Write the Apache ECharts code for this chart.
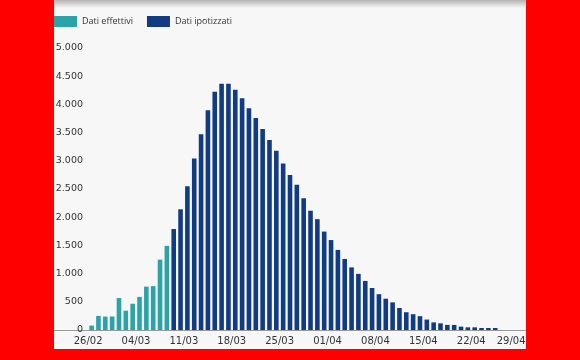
<!DOCTYPE html>
<html>
<head>
<meta charset="utf-8">
<script src="https://cdn.jsdelivr.net/npm/echarts@6/dist/echarts.min.js"></script>
<style>
html,body{margin:0;padding:0;background:#ff0000;}
#chart{width:580px;height:360px;}
</style>
</head>
<body>
<div id="chart"></div>
<script>
// Categories: one per day (empty days before 26/02 keep the axis layout)
var categories = [
  '21/02','22/02','23/02','24/02','25/02','26/02','27/02','28/02','29/02',
  '01/03','02/03','03/03','04/03','05/03','06/03','07/03','08/03','09/03','10/03',
  '11/03','12/03','13/03','14/03','15/03','16/03','17/03','18/03','19/03','20/03',
  '21/03','22/03','23/03','24/03','25/03','26/03','27/03','28/03','29/03','30/03','31/03',
  '01/04','02/04','03/04','04/04','05/04','06/04','07/04','08/04','09/04','10/04',
  '11/04','12/04','13/04','14/04','15/04','16/04','17/04','18/04','19/04','20/04',
  '21/04','22/04','23/04','24/04','25/04','26/04','27/04','28/04','29/04'
];
var tickLabels = ['26/02','04/03','11/03','18/03','25/03','01/04','08/04','15/04','22/04','29/04'];

// Dati effettivi: 26/02 .. 08/03
var effettiviStart = '26/02';
var effettivi = [78, 250, 238, 240, 566, 342, 466, 587, 769, 778, 1247, 1492];

// Dati ipotizzati: 09/03 .. 25/04
var ipotizzatiStart = '09/03';
var ipotizzati = [
  1790, 2140, 2550, 3040, 3470, 3895, 4225, 4365, 4365, 4260,
  4110, 3930, 3760, 3565, 3370, 3180, 2950, 2750, 2575, 2335,
  2115, 1965, 1745, 1595, 1420, 1260, 1110, 995, 870, 745,
  635, 555, 490, 390, 315, 280, 245, 185, 135, 118,
  90, 90, 60, 47, 47, 35, 35, 35
];

var yTicks = [0, 500, 1000, 1500, 2000, 2500, 3000, 3500, 4000, 4500, 5000];

function place(values, start) {
  var out = categories.map(function () { return null; });
  var s = categories.indexOf(start);
  values.forEach(function (v, i) { out[s + i] = v; });
  return out;
}

function fmtIt(v) {
  return String(v).replace(/\B(?=(\d{3})+(?!\d))/g, '.');
}

var chart = echarts.init(document.getElementById('chart'), null, {renderer: 'canvas'});
var option = {
  backgroundColor: '#f7f7f7',
  animation: false,
  legend: {
    left: 54, top: 16, padding: 0,
    itemWidth: 23, itemHeight: 11, itemGap: 14,
    icon: 'rect',
    textStyle: {fontFamily: 'Open Sans', fontSize: 9, color: '#333'},
    data: ['Dati effettivi', 'Dati ipotizzati']
  },
  grid: {left: 54, right: 54, top: 48, bottom: 30, outerBoundsMode: 'none', containLabel: false},
  xAxis: {
    type: 'category',
    data: categories,
    boundaryGap: true,
    axisLine: {show: true, lineStyle: {color: '#9a9a9a', width: 1}},
    axisTick: {show: false},
    splitLine: {show: false},
    axisLabel: {
      interval: function (idx, val) { return tickLabels.indexOf(val) >= 0; },
      margin: 6,
      fontFamily: 'DejaVu Sans', fontSize: 10, color: '#333',
      padding: [0, 7, 0, 0],
      formatter: function (val) {
        return val === tickLabels[tickLabels.length - 1] ? '{e|' + val + '}' : val;
      },
      rich: {e: {fontFamily: 'DejaVu Sans', fontSize: 10, color: '#333', padding: [0, 16, 0, 0]}}
    }
  },
  yAxis: {
    type: 'value',
    min: yTicks[0], max: yTicks[yTicks.length - 1], interval: 500,
    axisLine: {show: false},
    axisTick: {show: false},
    splitLine: {show: false},
    axisLabel: {
      inside: true, margin: 29, align: 'right',
      padding: [0, 0, 8, 0],
      fontFamily: 'DejaVu Sans', fontSize: 9.5, color: '#333',
      formatter: function (v) { return fmtIt(v); }
    }
  },
  series: [
    {
      name: 'Dati effettivi', type: 'bar', barWidth: 4.6, barGap: '-100%',
      itemStyle: {color: '#2ba3a9'},
      data: place(effettivi, effettiviStart)
    },
    {
      name: 'Dati ipotizzati', type: 'bar', barWidth: 4.6, barGap: '-100%',
      itemStyle: {color: '#113c84'},
      data: place(ipotizzati, ipotizzatiStart)
    }
  ],
  graphic: [
    {type: 'rect', z: 100, shape: {x: 54, y: 0, width: 472, height: 8},
     style: {fill: new echarts.graphic.LinearGradient(0, 0, 0, 1, [
       {offset: 0, color: 'rgba(0,0,0,0.28)'}, {offset: 1, color: 'rgba(0,0,0,0)'}])}},
    {type: 'rect', z: 100, shape: {x: 0, y: 0, width: 54, height: 360}, style: {fill: '#ff0000'}},
    {type: 'rect', z: 100, shape: {x: 526, y: 0, width: 54, height: 360}, style: {fill: '#ff0000'}},
    {type: 'rect', z: 100, shape: {x: 0, y: 349, width: 580, height: 11}, style: {fill: '#ff0000'}}
  ]
};
chart.setOption(option);
</script>
</body>
</html>
